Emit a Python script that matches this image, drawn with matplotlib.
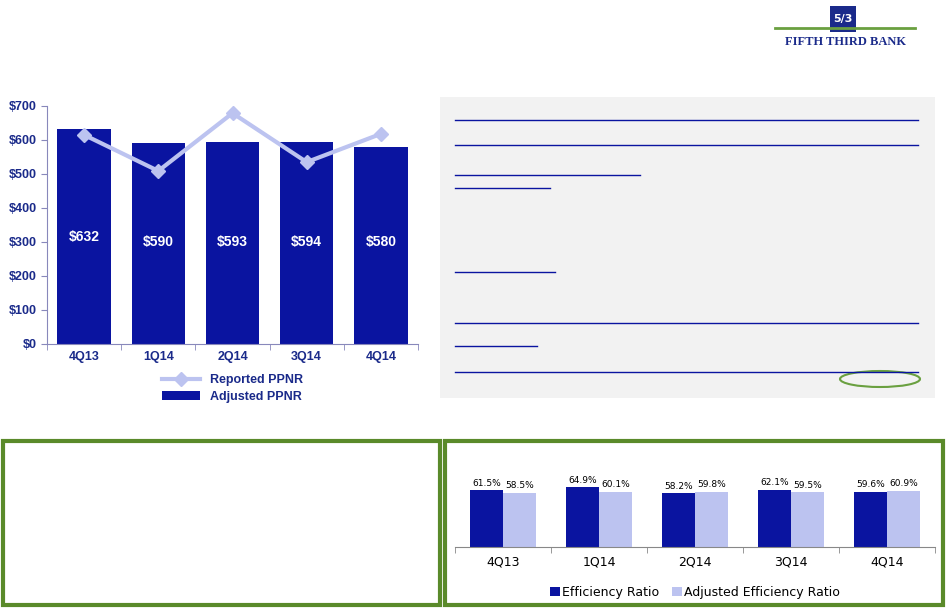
import matplotlib.pyplot as plt
from matplotlib.patches import Rectangle, Ellipse
import numpy as np

quarters = ["4Q13", "1Q14", "2Q14", "3Q14", "4Q14"]
adjusted_ppnr = [632, 590, 593, 594, 580]
reported_ppnr = [615, 509, 679, 535, 618]
efficiency = [61.5, 64.9, 58.2, 62.1, 59.6]
adj_efficiency = [58.5, 60.1, 59.8, 59.5, 60.9]

W, H = 946, 608
navy = "#0a14a0"
light = "#bcc3f0"
green = "#5a8a2a"

fig = plt.figure(figsize=(W / 100, H / 100), dpi=100)
fig.patch.set_facecolor("white")

def box(x0, y0, x1, y1):
    return [x0 / W, 1 - y1 / H, (x1 - x0) / W, (y1 - y0) / H]

# background shapes
ov = fig.add_axes([0, 0, 1, 1])
ov.set_xlim(0, W); ov.set_ylim(H, 0); ov.axis("off")
ov.add_patch(Rectangle((440, 97), 495, 301, facecolor="#f2f2f2", edgecolor="none"))
for y, x1 in [(120, 918), (145, 918), (323, 918), (372, 918)]:
    ov.plot([455, x1], [y, y], color=navy, lw=1)
for y, x1 in [(175, 640), (188, 550), (272, 555), (346, 537)]:
    ov.plot([455, x1], [y, y], color=navy, lw=1)
ov.add_patch(Ellipse((880, 379), 80, 16, facecolor="none", edgecolor="#6aa040", lw=1.5))
ov.add_patch(Rectangle((3, 441), 437, 164, facecolor="none", edgecolor=green, lw=3))
ov.add_patch(Rectangle((445, 441), 498, 164, facecolor="none", edgecolor=green, lw=3))
ov.text(845, 42, "FIFTH THIRD BANK", ha="center", va="center", color="#1a2a8a",
        fontsize=9, fontweight="bold", family="Liberation Serif")
ov.add_patch(Rectangle((830, 6), 26, 26, facecolor="#1a2a8a", edgecolor="none"))
ov.text(843, 19, "5/3", ha="center", va="center", color="white", fontsize=8, fontweight="bold")
ov.plot([775, 915], [28, 28], color="#6aa040", lw=2)

# PPNR chart
ax = fig.add_axes(box(47, 106, 418, 344))
x = np.arange(len(quarters))
ax.bar(x, adjusted_ppnr, width=0.72, color=navy, label="Adjusted PPNR", zorder=2)
ax.plot(x, reported_ppnr, color=light, lw=3, marker="D", ms=7, label="Reported PPNR", zorder=3)
for xi, v in zip(x, adjusted_ppnr):
    ax.text(xi, 300 if v < 600 else 315, f"${v}", ha="center", va="center", color="white",
            fontsize=10, fontweight="bold", family="Liberation Sans")
ax.set_xlim(-0.5, 4.5)
ax.set_ylim(0, 700)
ax.set_yticks(range(0, 701, 100))
ax.set_yticklabels([f"${v}" for v in range(0, 701, 100)])
ax.set_xticks(x)
ax.set_xticklabels(quarters)
ax.set_xticks(np.arange(-0.5, 5, 1), minor=True)
ax.tick_params(axis="x", which="major", length=0, pad=5)
ax.tick_params(axis="x", which="minor", length=4, color="#8888bb")
ax.tick_params(axis="y", length=4, color="#8888bb")
for lab in ax.get_xticklabels() + ax.get_yticklabels():
    lab.set_color("#1a2a8a"); lab.set_fontweight("bold"); lab.set_fontsize(9)
    lab.set_family("Liberation Sans")
for s in ["top", "right"]:
    ax.spines[s].set_visible(False)
for s in ["left", "bottom"]:
    ax.spines[s].set_color("#8888bb")
ax.legend(loc="upper center", bbox_to_anchor=(0.5, -0.1), ncol=1, frameon=False,
          prop={"family": "Liberation Sans", "weight": "bold", "size": 9},
          labelcolor="#1a2a8a", handlelength=3, borderpad=0, labelspacing=0.4)

# Efficiency chart
ax2 = fig.add_axes(box(455, 455, 935, 547))
w = 0.34
ax2.bar(x - w / 2, efficiency, width=w, color=navy, label="Efficiency Ratio")
ax2.bar(x + w / 2, adj_efficiency, width=w, color=light, label="Adjusted Efficiency Ratio")
for xi, a, b in zip(x, efficiency, adj_efficiency):
    ax2.text(xi - w / 2, a + 3, f"{a}%", ha="center", va="bottom", fontsize=6.5)
    ax2.text(xi + w / 2, b + 3, f"{b}%", ha="center", va="bottom", fontsize=6.5)
ax2.set_xlim(-0.5, 4.5)
ax2.set_ylim(0, 100)
ax2.set_yticks([])
ax2.set_xticks(x)
ax2.set_xticklabels(quarters, fontsize=9)
ax2.set_xticks(np.arange(-0.5, 5, 1), minor=True)
ax2.tick_params(axis="x", which="major", length=0, pad=6)
ax2.tick_params(axis="x", which="minor", length=4, color="#888888")
for s in ["top", "right", "left"]:
    ax2.spines[s].set_visible(False)
ax2.spines["bottom"].set_color("#888888")
ax2.legend(loc="upper center", bbox_to_anchor=(0.5, -0.3), ncol=2, frameon=False,
           fontsize=9, handlelength=0.8, handletextpad=0.2, columnspacing=1.0)

fig.savefig("out.png", dpi=100)
